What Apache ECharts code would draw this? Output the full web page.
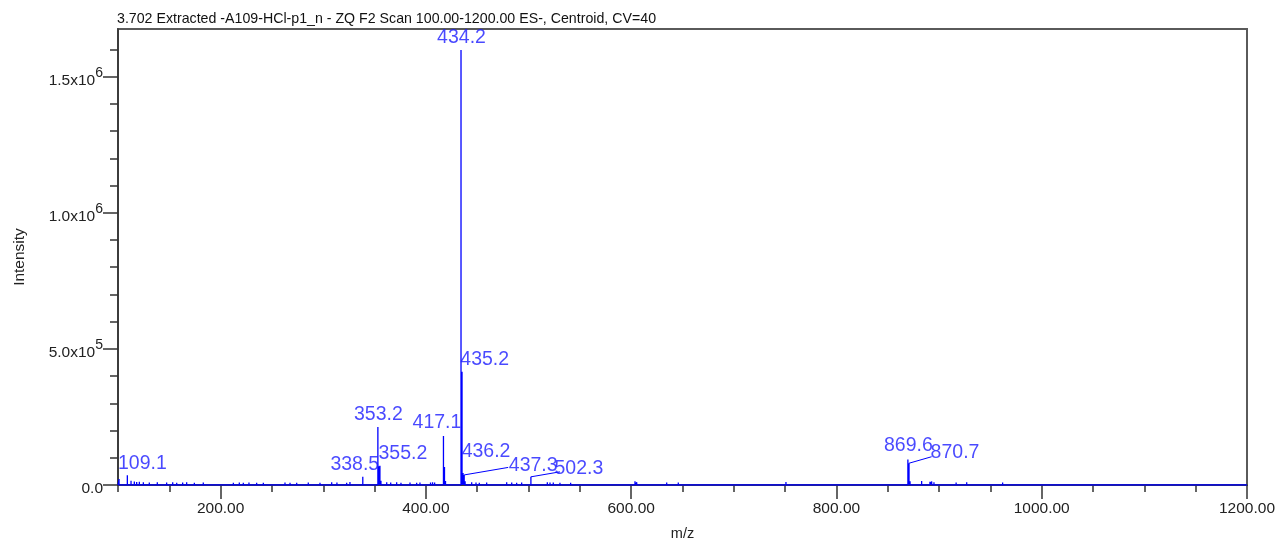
<!DOCTYPE html>
<html><head><meta charset="utf-8">
<script src="https://cdn.jsdelivr.net/npm/echarts@6/dist/echarts.min.js"></script>
<style>html,body{margin:0;padding:0;background:#fff}#c{width:1279px;height:540px}</style>
</head><body><div id="c"></div>
<script>
// ---- data ----
const titleText = '3.702 Extracted -A109-HCl-p1_n - ZQ F2 Scan 100.00-1200.00 ES-, Centroid, CV=40';
const mzRange = [100, 1200];
const yMax = 1.675e6;
const xMajorTicks = [200, 400, 600, 800, 1000, 1200];
const yMajorTicks = [0, 5e5, 1e6, 1.5e6];
const peakMz = [101.0,109.1,112.7,115.9,118.2,120.8,124.7,130.5,138.3,147.4,153.3,157.2,163.0,166.9,174.4,183.1,
  212.4,218.2,222.1,227.6,235.1,241.6,262.7,267.6,274.1,285.4,296.8,308.2,313.3,322.8,326.0,338.5,
  353.2,354.2,355.2,356.2,361.8,365.7,371.5,375.7,384.5,391.0,394.2,404.5,406.5,408.5,
  417.1,418.1,419.1,434.2,435.2,436.2,437.3,438.2,444.6,448.8,452.0,459.2,478.7,483.6,488.4,493.3,
  502.3,518.3,520.9,524.1,530.6,541.0,603.7,605.4,634.6,645.9,750.8,
  869.6,870.7,871.7,883.0,891.1,892.8,895.0,916.6,926.9,961.9];
const peakInt = [2.2e4,3.6e4,1.6e4,1.3e4,1.1e4,1.2e4,1.0e4,9e3,1.0e4,9e3,1.0e4,8e3,9e3,1.0e4,8e3,9e3,
  8e3,9e3,8e3,9e3,8e3,8e3,9e3,8e3,8e3,9e3,8e3,1.0e4,9e3,8e3,1.1e4,3.0e4,
  2.13e5,6.9e4,7.1e4,1.6e4,1.0e4,9e3,1.0e4,8e3,9e3,8e3,9e3,9e3,1.0e4,9e3,
  1.8e5,6.6e4,1.5e4,1.598e6,4.16e5,4.4e4,3.7e4,1.4e4,1.0e4,9e3,8e3,9e3,1.0e4,9e3,8e3,9e3,
  3.0e4,1.0e4,9e3,9e3,8e3,8e3,1.4e4,1.0e4,9e3,9e3,1.1e4,
  9.4e4,8.0e4,1.4e4,1.5e4,1.2e4,1.3e4,1.0e4,9e3,1.0e4,9e3];
const labelMz = [109.1,338.5,353.2,355.2,417.1,434.2,435.2,436.2,437.3,502.3,869.6,870.7];
const leaderMz = [437.3, 502.3, 870.7];

// ---- styling (label placement, px) ----
const labelOffsets = {'109.1':[15,-12],'338.5':[-8,-12],'353.2':[0.5,-12],'355.2':[23,-12],'417.1':[-6.5,-13],
  '434.2':[0.5,-12],'435.2':[22.7,-11.7],'436.2':[23,-21],'437.3':[69,-9],'502.3':[48,-8],'869.6':[0.5,-13.3],'870.7':[46,-10.5]};
const leaderEnds = {'437.3':[44,-7.5],'502.3':[29,-5],'870.7':[22.6,-6.5]};

const intOf = m => peakInt[peakMz.indexOf(m)];
const stick = [[mzRange[0], 0]];
peakMz.forEach((m, i) => { stick.push([m, 0], [m, peakInt[i]], [m, 0]); });
stick.push([mzRange[1], 0]);

const xMinor = []; for (let v = mzRange[0]; v <= mzRange[1]; v += 50) xMinor.push(v);
const yMinor = []; for (let v = 0; v <= 1.6e6 + 1; v += 1e5) yMinor.push(Math.round(v));

const FONT = 'Liberation Sans, Arial, sans-serif';
const BLUE = '#0000ff';
const LBL = '#1c1cff';

function yFmt(v) {
  if (v === 0) return '{a|0.0}';
  const e = Math.floor(Math.log10(v) + 1e-9);
  return '{a|' + (v / Math.pow(10, e)).toFixed(1) + 'x10}{s|' + e + '}';
}

const chart = echarts.init(document.getElementById('c'), null, {renderer: 'canvas'});
chart.setOption({
  animation: false,
  backgroundColor: '#fff',
  title: {text: titleText, left: 117, top: 12, padding: 0,
    textStyle: {fontFamily: FONT, fontSize: 14.2, fontWeight: 'normal', color: '#111'}},
  grid: {left: 118, right: 32, top: 29, bottom: 55, outerBoundsMode: 'none', containLabel: false,
    show: true, borderColor: '#5a5a5a', borderWidth: 2, backgroundColor: 'transparent'},
  xAxis: [{
    type: 'value', min: mzRange[0], max: mzRange[1], position: 'bottom',
    name: 'm/z', nameLocation: 'middle', nameGap: 41,
    nameTextStyle: {fontFamily: FONT, fontSize: 14.5, color: '#222'},
    axisLine: {show: true, lineStyle: {color: '#333', width: 1.5}},
    axisTick: {show: true, customValues: xMajorTicks, length: 14, lineStyle: {color: '#333', width: 1.5}},
    axisLabel: {customValues: xMajorTicks, formatter: v => v.toFixed(2), margin: 16,
      fontFamily: FONT, fontSize: 15.5, color: '#222'},
    splitLine: {show: false}
  }, {
    type: 'value', min: mzRange[0], max: mzRange[1], position: 'bottom',
    axisLine: {show: false},
    axisTick: {show: true, customValues: xMinor, length: 7, lineStyle: {color: '#333', width: 1.5}},
    axisLabel: {show: false}, splitLine: {show: false}
  }],
  yAxis: [{
    type: 'value', min: 0, max: yMax, position: 'left',
    name: 'Intensity', nameLocation: 'middle', nameGap: 90,
    nameTextStyle: {fontFamily: FONT, fontSize: 15.5, color: '#222'},
    axisLine: {show: true, lineStyle: {color: '#333', width: 1.5}},
    axisTick: {show: true, customValues: yMajorTicks, length: 15, lineStyle: {color: '#333', width: 1.5}},
    axisLabel: {customValues: yMajorTicks, formatter: yFmt, margin: 15,
      rich: {
        a: {fontFamily: FONT, fontSize: 15.5, color: '#222', padding: [8, 0, 0, 0]},
        s: {fontFamily: FONT, fontSize: 14, color: '#222', padding: [0, 0, 8, 0]}
      }},
    splitLine: {show: false}
  }, {
    type: 'value', min: 0, max: yMax, position: 'left',
    axisLine: {show: false},
    axisTick: {show: true, customValues: yMinor, length: 8, lineStyle: {color: '#333', width: 1.5}},
    axisLabel: {show: false}, splitLine: {show: false}
  }],
  series: [{
    type: 'line', data: stick, xAxisIndex: 0, yAxisIndex: 0,
    showSymbol: false, symbol: 'none', silent: true,
    lineStyle: {color: BLUE, width: 1.3}, z: 3
  }, {
    type: 'scatter', xAxisIndex: 0, yAxisIndex: 0, symbolSize: 1,
    itemStyle: {color: 'rgba(0,0,0,0)'}, silent: true, z: 4,
    data: labelMz.map(m => ({value: [m, intOf(m)],
      label: {show: true, position: 'inside', offset: labelOffsets[m.toFixed(1)],
        formatter: m.toFixed(1), fontFamily: FONT, fontSize: 19.5, color: LBL}}))
  }, {
    type: 'custom', xAxisIndex: 0, yAxisIndex: 0, silent: true, z: 4,
    data: leaderMz.map(m => [m, intOf(m)]),
    renderItem: function (params, api) {
      const p = api.coord([api.value(0), api.value(1)]);
      const off = leaderEnds[api.value(0).toFixed(1)];
      return {type: 'line', shape: {x1: p[0], y1: p[1], x2: p[0] + off[0], y2: p[1] + off[1]},
        style: {stroke: BLUE, lineWidth: 1}};
    }
  }]
});
</script></body></html>
